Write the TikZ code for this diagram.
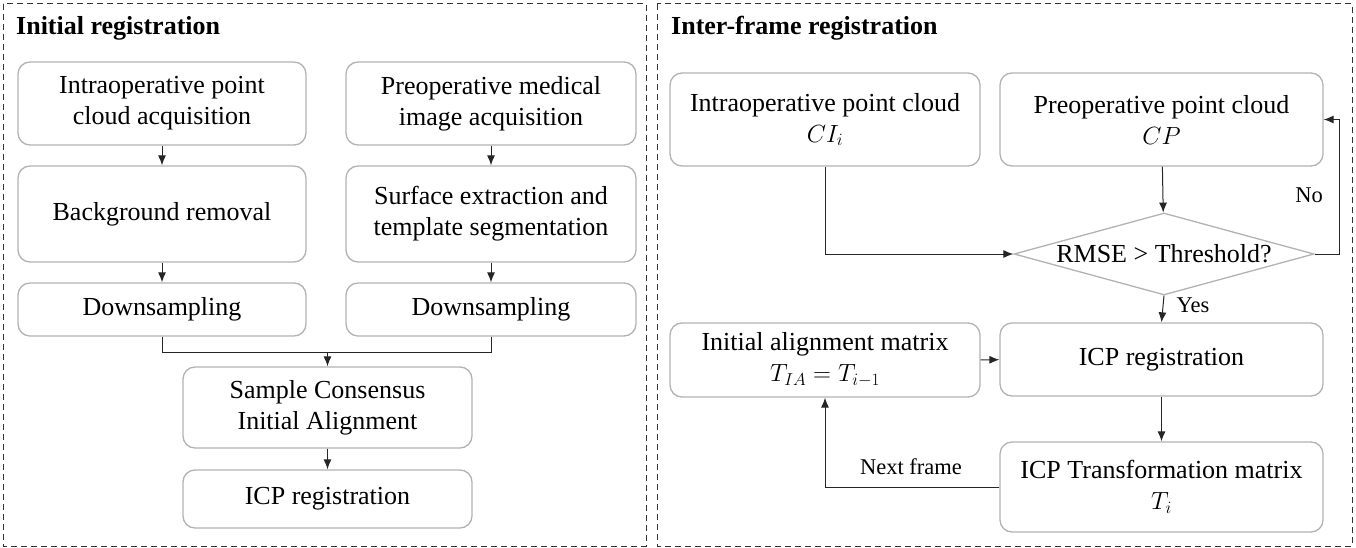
\documentclass[tikz,border=0pt]{standalone}
\usepackage{fontspec}
\setmainfont{Liberation Serif}
\usetikzlibrary{arrows.meta,shapes.geometric}

\begin{document}
\begin{tikzpicture}[x=1pt,y=-1pt,
    font=\fontsize{26}{31}\selectfont,
    box/.style={draw=black!30,line width=1.3pt,rounded corners=12pt,align=center,inner sep=2pt},
    flow/.style={draw=black!85,line width=1pt,-{Latex[length=10pt,width=8pt]}},
    mergeline/.style={draw=black!85,line width=1pt},
    frame/.style={draw=black!80,line width=1pt,dash pattern=on 6pt off 4pt},
    lbl/.style={font=\fontsize{22.5}{26}\selectfont,inner sep=0pt},
    title/.style={font=\fontsize{26}{31}\selectfont\bfseries,anchor=west,inner sep=0pt}]
    \useasboundingbox (0,0) rectangle (1356,548);
    \draw[frame] (3,4) rectangle (646,546);
    \draw[frame] (657,4) rectangle (1352,546);
    \node[title] (titleL) at (16,28) {Initial registration};
    \node[title] (titleR) at (671,28) {Inter-frame registration};
    % initial registration
    \node[box,minimum width=288pt,minimum height=83pt] (intraAcq) at (162,103.5) {Intraoperative point\\cloud acquisition};
    \node[box,minimum width=290pt,minimum height=83pt] (preAcq) at (491,103.5) {Preoperative medical\\image acquisition};
    \node[box,minimum width=288pt,minimum height=96pt] (bgRemoval) at (162,214) {Background removal};
    \node[box,minimum width=290pt,minimum height=96pt] (surfExt) at (491,214) {Surface extraction and\\template segmentation};
    \node[box,minimum width=288pt,minimum height=53pt] (downL) at (162,309.5) {Downsampling};
    \node[box,minimum width=290pt,minimum height=53pt] (downR) at (491,309.5) {Downsampling};
    \node[box,minimum width=289pt,minimum height=81pt] (scia) at (327.5,407.5) {Sample Consensus\\Initial Alignment};
    \node[box,minimum width=289pt,minimum height=58pt] (icpL) at (327.5,499) {ICP registration};
    \draw[flow] (intraAcq) -- (bgRemoval);
    \draw[flow] (preAcq) -- (surfExt);
    \draw[flow] (bgRemoval) -- (downL);
    \draw[flow] (surfExt) -- (downR);
    \coordinate (merge) at (327.5,352);
    \draw[mergeline] (downL.south) |- (merge);
    \draw[mergeline] (downR.south) |- (merge);
    \draw[flow] (merge) -- (scia);
    \draw[flow] (scia) -- (icpL);
    % inter-frame registration
    \node[box,minimum width=310pt,minimum height=93pt] (intraPC) at (825,119.5) {Intraoperative point cloud\\$CI_i$};
    \node[box,minimum width=323pt,minimum height=93pt] (prePC) at (1161.5,119.5) {Preoperative point cloud\\$CP$};
    \node[draw=black!30,line width=1.3pt,diamond,aspect=3.66,inner sep=0pt,minimum width=300pt,minimum height=82pt] (rmse) at (1164,254) {RMSE > Threshold?};
    \node[box,minimum width=323pt,minimum height=73pt] (icpR) at (1161.5,359.5) {ICP registration};
    \node[box,minimum width=310pt,minimum height=74pt] (initMat) at (825,360) {Initial alignment matrix\\$T_{IA}=T_{i-1}$};
    \node[box,minimum width=323pt,minimum height=90pt] (icpT) at (1161.5,487) {ICP Transformation matrix\\$T_i$};
    \draw[flow] (prePC) -- (rmse);
    \draw[flow] (intraPC.south) |- (rmse.west);
    \draw[flow] (rmse.east) -- ++(25,0) |- (prePC.east);
    \node[lbl] (no) at (1309,195) {No};
    \draw[flow] (rmse.south) -- (icpR.north);
    \node[lbl] (yes) at (1193,305) {Yes};
    \draw[flow] (initMat) -- (icpR);
    \draw[flow] (icpR) -- (icpT);
    \draw[flow] (icpT.west) -| (initMat.south);
    \node[lbl] (next) at (911,467) {Next frame};
\end{tikzpicture}
\end{document}
